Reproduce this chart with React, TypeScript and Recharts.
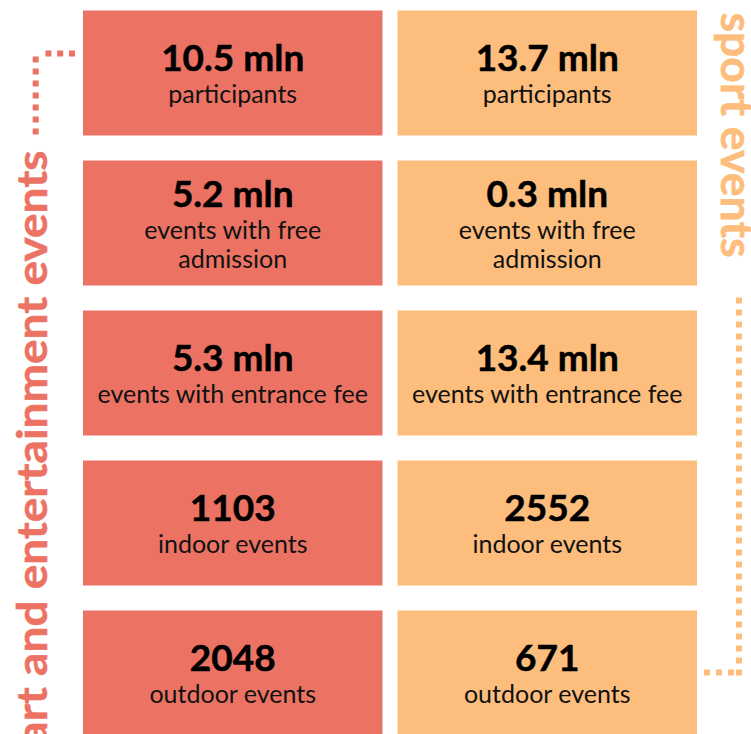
import React from 'react';
import { BarChart, Bar, XAxis, YAxis, Customized } from 'recharts';

const rowKeys = ['participants', 'free', 'fee', 'indoor', 'outdoor'];
const artValues = ['10.5 mln', '5.2 mln', '5.3 mln', '1103', '2048'];
const sportValues = ['13.7 mln', '0.3 mln', '13.4 mln', '2552', '671'];
const rowLabels = [
  ['participants'],
  ['events with free', 'admission'],
  ['events with entrance fee'],
  ['indoor events'],
  ['outdoor events'],
];
const groupTitles = ['art and entertainment events', 'sport events'];
const tileSize = [1, 1, 1, 1, 1];

const RED = '#EC7363';
const ORANGE = '#FDBD7D';
const FONT = 'Lato, "Open Sans", sans-serif';
const OFF = 2.5;

const data = rowKeys.map((k, i) => ({
  row: k,
  art: tileSize[i],
  sport: tileSize[i],
  artText: artValues[i],
  sportText: sportValues[i],
  label: rowLabels[i],
}));

const makeTile = (textKey: string) => (props: any) => {
  const { x, y, width, height, payload, fill } = props;
  const gap = 7.5;
  const rx = x + gap;
  const rw = width - 2 * gap;
  const cx = rx + rw / 2;
  const cy = y + height / 2;
  const lines: string[] = payload.label;
  const n = lines.length;
  const vBase = cy - 2 - 14.5 * (n - 1);
  return (
    <g>
      <rect x={rx} y={y} width={rw} height={height} fill={fill} />
      <text x={cx} y={vBase} textAnchor="middle" fontFamily={FONT} fontWeight={700} fontSize={37} fill="#000" stroke="#000" strokeWidth={0.5}>
        {payload[textKey]}
      </text>
      {lines.map((l, i) => (
        <text key={i} x={cx} y={vBase + 32 + 29 * i} textAnchor="middle" fontFamily={FONT} fontSize={25} fill="#111">
          {l}
        </text>
      ))}
    </g>
  );
};

const Decor = () => (
  <g>
    <text
      transform={`translate(47, ${150 + OFF}) rotate(-90) scale(1, 0.93)`}
      textAnchor="end"
      fontFamily={FONT}
      fontWeight={700}
      fontSize={46}
      fill={RED}
      stroke={RED}
      strokeWidth={0.6}
    >
      {groupTitles[0]}
    </text>
    <line x1={75} y1={53 + OFF} x2={45.5} y2={53 + OFF} stroke={RED} strokeWidth={6} strokeDasharray="6 5.8" />
    <line x1={35.7} y1={56 + OFF} x2={35.7} y2={134 + OFF} stroke={RED} strokeWidth={6} strokeDasharray="6 6" />
    <text
      transform={`translate(721, ${12 + OFF}) rotate(90)`}
      textAnchor="start"
      fontFamily={FONT}
      fontWeight={700}
      fontSize={44.5}
      fill={ORANGE}
      stroke={ORANGE}
      strokeWidth={0.6}
    >
      {groupTitles[1]}
    </text>
    <line x1={739} y1={297 + OFF} x2={739} y2={675 + OFF} stroke={ORANGE} strokeWidth={6} strokeDasharray="6 6" />
    <line x1={734} y1={672 + OFF} x2={704} y2={672 + OFF} stroke={ORANGE} strokeWidth={6} strokeDasharray="6 6" />
  </g>
);

export default function App() {
  return (
    <div style={{ position: 'absolute', left: 0, top: 0, width: 751, height: 734, overflow: 'hidden', background: '#fff' }}>
      <div style={{ position: 'relative', top: -OFF }}>
        <BarChart
          width={751}
          height={750}
          data={data}
          layout="vertical"
          margin={{ top: 0, right: 46.5, left: 75.5, bottom: 0 }}
          barCategoryGap={12.5}
        >
          <XAxis type="number" domain={[0, 2]} hide />
          <YAxis type="category" dataKey="row" hide />
          <Bar dataKey="art" stackId="a" fill={RED} shape={makeTile('artText')} isAnimationActive={false} />
          <Bar dataKey="sport" stackId="a" fill={ORANGE} shape={makeTile('sportText')} isAnimationActive={false} />
          <Customized component={<Decor />} />
        </BarChart>
      </div>
    </div>
  );
}
